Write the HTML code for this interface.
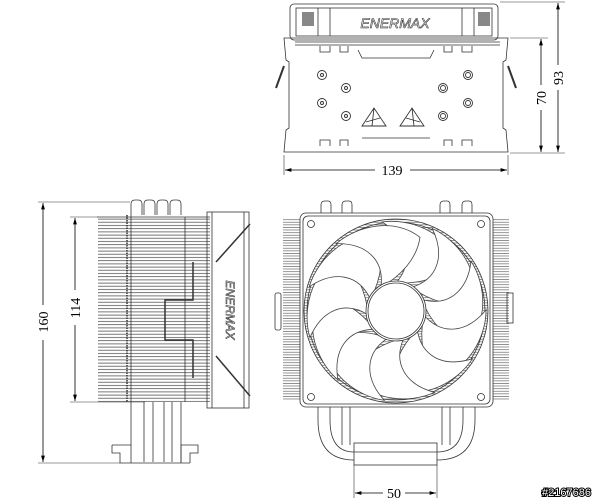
<!DOCTYPE html>
<html><head><meta charset="utf-8"><style>
html,body{margin:0;padding:0;background:#fff}
svg{display:block}
.d{font-family:"Liberation Serif",serif;fill:#000;stroke:none}
</style></head><body>
<svg width="600" height="500" viewBox="0 0 600 500" xmlns="http://www.w3.org/2000/svg" fill="none" stroke="#333" stroke-width="0.8">
<defs>
<pattern id="hfin" width="4" height="3.2" patternUnits="userSpaceOnUse"><line x1="0" y1="1.5" x2="4" y2="1.5" stroke="#555" stroke-width="0.8"/></pattern>
<pattern id="hfin2" width="4" height="2.6" patternUnits="userSpaceOnUse"><line x1="0" y1="1.2" x2="4" y2="1.2" stroke="#666" stroke-width="0.7"/></pattern>
<marker id="ar" viewBox="0 0 10 6" refX="10" refY="3" markerWidth="8" markerHeight="5" orient="auto-start-reverse"><path d="M0,0L10,3L0,6z" fill="#000" stroke="none"/></marker>
<path id="bl" d="M396,283 C414,262 408,238 382,222 C410,218 446,232 456,262 C442,278 420,284 396,283Z"/>
</defs>

<!-- ===== TOP VIEW ===== -->
<rect x="290" y="4" width="208" height="36" rx="4"/>
<rect x="296" y="8" width="196" height="28"/>
<rect x="302" y="12" width="12" height="14" fill="#888" stroke="none"/>
<rect x="478" y="12" width="12" height="14" fill="#888" stroke="none"/>
<line x1="318" y1="8" x2="318" y2="36"/><line x1="330" y1="8" x2="330" y2="36"/>
<line x1="462" y1="8" x2="462" y2="36"/><line x1="474" y1="8" x2="474" y2="36"/>
<text x="395" y="28" font-size="14" font-style="italic" text-anchor="middle" font-family="Liberation Sans, sans-serif" fill="#fff" stroke="#333" stroke-width="0.6">ENERMAX</text>
<line x1="295" y1="42" x2="500" y2="42"/><line x1="295" y1="45" x2="500" y2="45"/>
<path d="M284,38 L508,38 L506,60 L503,62 L503,128 L506,130 L508,152 L284,152 L286,130 L289,128 L289,62 L286,60 Z"/>
<path d="M320,46 L320,52 L330,52 L330,46 M340,46 L340,52 L348,52 L348,46 M358,50 L362,58 L430,58 L434,50 M444,46 L444,52 L452,52 L452,46 M462,46 L462,52 L472,52 L472,46"/>
<path d="M320,146 L320,140 L330,140 L330,146 M340,146 L340,140 L348,140 L348,146 M362,138 L430,138 M444,146 L444,140 L452,140 L452,146 M462,146 L462,140 L472,140 L472,146"/>
<line x1="284" y1="66" x2="276" y2="88" stroke-width="2"/><line x1="508" y1="66" x2="516" y2="88" stroke-width="2"/>
<g stroke-width="0.9">
<circle cx="322" cy="75" r="4.5"/><circle cx="322" cy="75" r="1.5"/>
<circle cx="322" cy="103" r="4.5"/><circle cx="322" cy="103" r="1.5"/>
<circle cx="346" cy="88" r="4.5"/><circle cx="346" cy="88" r="1.5"/>
<circle cx="346" cy="116" r="4.5"/><circle cx="346" cy="116" r="1.5"/>
<circle cx="443" cy="88" r="4.5"/><circle cx="443" cy="88" r="2.5"/>
<circle cx="443" cy="116" r="4.5"/><circle cx="443" cy="116" r="2.5"/>
<circle cx="468" cy="75" r="4.5"/><circle cx="468" cy="75" r="2.5"/>
<circle cx="468" cy="103" r="4.5"/><circle cx="468" cy="103" r="2.5"/>
<path d="M362,126 L374,108 L386,126 Z M374,108 L372,126 M366,122 L380,118"/>
<path d="M400,126 L412,108 L424,126 Z M412,108 L414,126 M406,118 L420,122"/>
</g>
<!-- dims top -->
<line x1="284" y1="155" x2="284" y2="175" stroke-width="0.6"/><line x1="508" y1="155" x2="508" y2="175" stroke-width="0.6"/>
<line x1="285" y1="170" x2="375" y2="170" stroke="#000" marker-start="url(#ar)"/>
<line x1="410" y1="170" x2="507" y2="170" stroke="#000" marker-end="url(#ar)"/>
<text class="d" x="392" y="175" font-size="14" text-anchor="middle">139</text>
<line x1="510" y1="38" x2="548" y2="38" stroke-width="0.6"/><line x1="510" y1="153" x2="565" y2="153" stroke-width="0.6"/>
<line x1="500" y1="2" x2="565" y2="2" stroke-width="0.6"/>
<line x1="541" y1="39" x2="541" y2="85" stroke="#000" marker-start="url(#ar)"/>
<line x1="541" y1="110" x2="541" y2="152" stroke="#000" marker-end="url(#ar)"/>
<text class="d" transform="translate(546,98) rotate(-90)" font-size="14" text-anchor="middle">70</text>
<line x1="558" y1="3" x2="558" y2="65" stroke="#000" marker-start="url(#ar)"/>
<line x1="558" y1="90" x2="558" y2="152" stroke="#000" marker-end="url(#ar)"/>
<text class="d" transform="translate(563,78) rotate(-90)" font-size="14" text-anchor="middle">93</text>

<!-- ===== SIDE VIEW ===== -->
<g stroke-width="0.8">
<path d="M131,215 L131,204 Q131,200 135,200 L138,200 Q142,200 142,204 L142,215"/>
<path d="M144,215 L144,204 Q144,200 148,200 L151,200 Q155,200 155,204 L155,215"/>
<path d="M157,215 L157,204 Q157,200 161,200 L164,200 Q168,200 168,204 L168,215"/>
<path d="M170,215 L170,204 Q170,200 174,200 L177,200 Q181,200 181,204 L181,215"/>
</g>
<rect x="98" y="217" width="112" height="185" fill="url(#hfin)" stroke="none"/>
<line x1="97" y1="217" x2="210" y2="217"/>
<line x1="127" y1="215" x2="127" y2="402" stroke-dasharray="1.5,1" stroke-width="1.5"/>
<line x1="131" y1="215" x2="131" y2="402"/><line x1="185" y1="217" x2="185" y2="402"/>
<path d="M193,262 L193,300 L165,300 L165,340 L193,340 L193,378" stroke-width="1.5"/>
<rect x="207" y="212" width="42" height="196"/>
<line x1="212" y1="212" x2="212" y2="408"/><line x1="244" y1="212" x2="244" y2="408"/>
<line x1="216" y1="262" x2="250" y2="224" stroke-width="1.5"/><line x1="216" y1="356" x2="250" y2="396" stroke-width="1.5"/>
<text transform="translate(226,310) rotate(90)" font-size="12" font-style="italic" text-anchor="middle" font-family="Liberation Sans, sans-serif" fill="#fff" stroke="#333" stroke-width="0.6">ENERMAX</text>
<rect x="275" y="293" width="6" height="37" rx="2"/>
<!-- base side -->
<g>
<line x1="131" y1="402" x2="131" y2="445"/><line x1="144" y1="402" x2="144" y2="462"/>
<line x1="153" y1="402" x2="153" y2="462"/><line x1="164" y1="402" x2="164" y2="462"/>
<line x1="172" y1="402" x2="172" y2="462"/><line x1="181" y1="402" x2="181" y2="462"/>
<path d="M112,445 L131,445 L131,463 M181,463 L181,445 L198,445 L198,453 L190,453 L190,463 M112,445 L112,453 L120,453 L120,463 L190,463"/>
</g>
<!-- dims side -->
<line x1="38" y1="202" x2="130" y2="202" stroke-width="0.6"/><line x1="38" y1="463" x2="120" y2="463" stroke-width="0.6"/>
<line x1="70" y1="217" x2="98" y2="217" stroke-width="0.6"/><line x1="70" y1="402" x2="145" y2="402" stroke-width="0.6"/>
<line x1="43" y1="203" x2="43" y2="305" stroke="#000" marker-start="url(#ar)"/>
<line x1="43" y1="340" x2="43" y2="462" stroke="#000" marker-end="url(#ar)"/>
<text class="d" transform="translate(48,322) rotate(-90)" font-size="14" text-anchor="middle">160</text>
<line x1="75" y1="218" x2="75" y2="290" stroke="#000" marker-start="url(#ar)"/>
<line x1="75" y1="325" x2="75" y2="401" stroke="#000" marker-end="url(#ar)"/>
<text class="d" transform="translate(80,308) rotate(-90)" font-size="14" text-anchor="middle">114</text>

<!-- ===== FRONT VIEW ===== -->
<rect x="283" y="218" width="226" height="182" fill="url(#hfin2)" stroke="none"/>
<path d="M321,213 L321,205 Q321,201 325,201 L328,201 Q331,201 331,205 L331,213"/>
<path d="M342,213 L342,205 Q342,201 346,201 L349,201 Q352,201 352,205 L352,213"/>
<path d="M440,213 L440,205 Q440,201 444,201 L447,201 Q450,201 450,205 L450,213"/>
<path d="M462,213 L462,205 Q462,201 466,201 L469,201 Q472,201 472,205 L472,213"/>
<rect x="300" y="213" width="193" height="194" rx="6" fill="#fff"/>
<rect x="303" y="216" width="187" height="188" rx="5"/>
<circle cx="396" cy="311" r="92" fill="url(#hfin2)"/>
<circle cx="396" cy="311" r="89"/>
<g stroke="#444" stroke-width="0.8" fill="#fff">
<use href="#bl"/>
<use href="#bl" transform="rotate(32.7 396 311)"/>
<use href="#bl" transform="rotate(65.4 396 311)"/>
<use href="#bl" transform="rotate(98.2 396 311)"/>
<use href="#bl" transform="rotate(130.9 396 311)"/>
<use href="#bl" transform="rotate(163.6 396 311)"/>
<use href="#bl" transform="rotate(196.4 396 311)"/>
<use href="#bl" transform="rotate(229.1 396 311)"/>
<use href="#bl" transform="rotate(261.8 396 311)"/>
<use href="#bl" transform="rotate(294.5 396 311)"/>
<use href="#bl" transform="rotate(327.3 396 311)"/>
</g>
<circle cx="396" cy="311" r="30" fill="#fff"/><circle cx="396" cy="311" r="28"/>
<circle cx="311" cy="224" r="3.5"/><circle cx="481" cy="224" r="3.5"/>
<circle cx="311" cy="397" r="3.5"/><circle cx="481" cy="397" r="3.5"/>
<rect x="507" y="293" width="6" height="30"/>
<!-- U heatpipes -->
<path d="M318,407 L318,420 Q318,460 354,460 M475,407 L475,420 Q475,460 437,460"/>
<path d="M330,407 L330,420 Q330,452 354,452 M463,407 L463,420 Q463,452 437,452"/>
<line x1="342" y1="407" x2="342" y2="445"/><line x1="350" y1="407" x2="350" y2="445"/>
<line x1="442" y1="407" x2="442" y2="445"/><line x1="450" y1="407" x2="450" y2="445"/>
<rect x="354" y="443" width="83" height="22"/>
<line x1="354" y1="452" x2="437" y2="452"/>
<line x1="354" y1="465" x2="354" y2="498" stroke-width="0.6"/><line x1="437" y1="465" x2="437" y2="498" stroke-width="0.6"/>
<line x1="355" y1="493" x2="383" y2="493" stroke="#000" marker-start="url(#ar)"/>
<line x1="405" y1="493" x2="436" y2="493" stroke="#000" marker-end="url(#ar)"/>
<text class="d" x="394" y="498" font-size="14" text-anchor="middle">50</text>
<text x="591" y="496" font-size="11" text-anchor="end" font-family="Liberation Sans, sans-serif" fill="#fff" stroke="#000" stroke-width="2" paint-order="stroke">#2167686</text>
</svg>
</body></html>
